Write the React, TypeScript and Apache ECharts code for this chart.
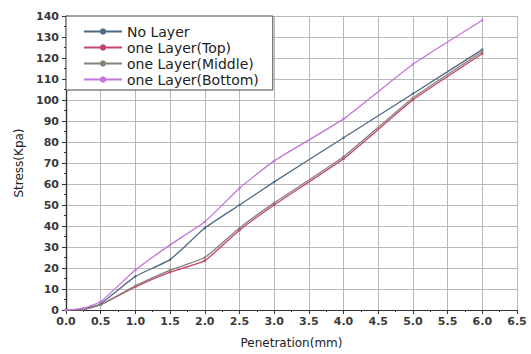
import React, { useEffect, useRef } from "react";
import * as echarts from "echarts";

const penetration = [0, 0.25, 0.5, 1.0, 1.5, 2.0, 2.5, 3.0, 4.0, 5.0, 6.0];
const noLayer = [0, 0.5, 3, 16, 24, 39, 50, 61, 82, 103, 124];
const layerTop = [0, 0.3, 2.5, 11, 18, 23.5, 38, 50, 72, 100, 122];
const layerMiddle = [0, 0.3, 2.5, 11.5, 19, 25, 39, 51, 73, 101, 123];
const layerBottom = [0, 0.8, 4, 19, 31, 42, 58, 71, 91, 117, 138];

const seriesNames = ["No Layer", "one Layer(Top)", "one Layer(Middle)", "one Layer(Bottom)"];
const seriesColors = ["#4f6a86", "#c4466a", "#86827a", "#c275db"];
const seriesValues = [noLayer, layerTop, layerMiddle, layerBottom];

const FONT = "DejaVu Sans";

export default function App() {
  const ref = useRef<HTMLDivElement>(null);
  useEffect(() => {
    if (!ref.current) return;
    const chart = echarts.init(ref.current, undefined, { renderer: "svg" });
    const axisLine = { show: true, lineStyle: { color: "#333", width: 1.2 } };
    chart.setOption({
      animation: false,
      backgroundColor: "#fff",
      grid: { left: 66, right: 14, top: 16, bottom: 42, containLabel: false },
      legend: {
        orient: "vertical",
        left: 66,
        top: 16,
        padding: [8, 14, 3, 17],
        itemGap: 1,
        itemWidth: 38,
        itemHeight: 8,
        backgroundColor: "#fff",
        borderColor: "#444",
        borderWidth: 1,
        textStyle: { fontFamily: FONT, fontSize: 14, color: "#222", lineHeight: 15 },
        data: seriesNames,
      },
      xAxis: [
        {
          type: "value",
          min: 0,
          max: 6.5,
          interval: 0.5,
          name: "Penetration(mm)",
          nameLocation: "middle",
          nameGap: 27,
          nameTextStyle: { fontFamily: FONT, fontSize: 12, color: "#222" },
          axisLine,
          axisTick: { show: true, inside: false, length: 4, lineStyle: { color: "#333" } },
          minorTick: { show: true, splitNumber: 2, length: 2, lineStyle: { color: "#333" } },
          axisLabel: {
            fontFamily: FONT,
            fontSize: 11,
            fontWeight: "bold",
            color: "#3a3a3a",
            margin: 6,
            formatter: (v: number) => v.toFixed(1),
          },
          splitLine: { show: true, lineStyle: { color: "#b8b8b8", width: 1 } },
        },
        {
          type: "value",
          position: "top",
          min: 0,
          max: 6.5,
          interval: 0.5,
          axisLine,
          axisTick: { show: true, inside: true, length: 4, lineStyle: { color: "#333" } },
          minorTick: { show: true, splitNumber: 2, length: 2, lineStyle: { color: "#333" } },
          axisLabel: { show: false },
          splitLine: { show: false },
        },
      ],
      yAxis: [
        {
          type: "value",
          min: 0,
          max: 140,
          interval: 10,
          name: "Stress(Kpa)",
          nameLocation: "middle",
          nameGap: 41,
          nameTextStyle: { fontFamily: FONT, fontSize: 12, color: "#222" },
          axisLine,
          axisTick: { show: true, inside: false, length: 4, lineStyle: { color: "#333" } },
          minorTick: { show: true, splitNumber: 2, length: 2, lineStyle: { color: "#333" } },
          axisLabel: { fontFamily: FONT, fontSize: 11, fontWeight: "bold", color: "#3a3a3a", margin: 7 },
          splitLine: { show: true, lineStyle: { color: "#b8b8b8", width: 1 } },
        },
        {
          type: "value",
          position: "right",
          min: 0,
          max: 140,
          interval: 10,
          axisLine,
          axisTick: { show: true, inside: true, length: 4, lineStyle: { color: "#333" } },
          minorTick: { show: true, splitNumber: 2, length: 2, lineStyle: { color: "#333" } },
          axisLabel: { show: false },
          splitLine: { show: false },
        },
      ],
      series: seriesNames.map((name, i) => ({
        name,
        type: "line",
        xAxisIndex: 0,
        yAxisIndex: 0,
        data: penetration.map((x, j) => [x, seriesValues[i][j]]),
        symbol: "circle",
        symbolSize: 2.5,
        showSymbol: true,
        smooth: 0.15,
        color: seriesColors[i],
        lineStyle: { color: seriesColors[i], width: 1.3 },
        itemStyle: { color: seriesColors[i] },
        z: 3 + i,
      })),
    });
    return () => chart.dispose();
  }, []);
  return (
    <div
      ref={ref}
      style={{ position: "fixed", left: 0, top: 0, width: 531, height: 354 }}
    />
  );
}
